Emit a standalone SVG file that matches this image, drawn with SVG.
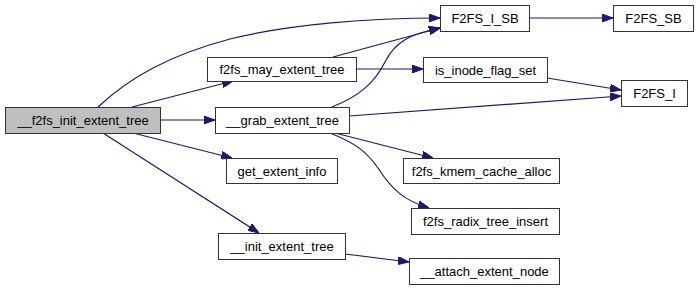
<svg xmlns="http://www.w3.org/2000/svg" width="699" height="291" viewBox="0 0 699 291">
  <style>
    .node rect { fill: #ffffff; stroke: #333333; stroke-width: 1; }
    .node.root rect { fill: #bfbfbf; }
    .node text { font-family: "Liberation Sans", Arial, sans-serif; font-size: 13px; fill: #000000; text-anchor: middle; }
    .edge { fill: none; stroke: #191970; stroke-width: 1.2; marker-end: url(#arrow); }
  </style>
  <defs>
    <marker id="arrow" markerUnits="userSpaceOnUse" markerWidth="11" markerHeight="8" refX="11" refY="4" orient="auto">
      <path d="M0,0 L11,4 L0,8 z" fill="#191970" stroke="#191970" stroke-width="1"/>
    </marker>
  </defs>

  <!-- call edges -->
  <g id="edges">
    <path class="edge" d="M98,107 C130,77 170,55 230,39 C290,24 370,18 440,18"/>
    <path class="edge" d="M132,107 L233,81"/>
    <path class="edge" d="M160,120 L215,120"/>
    <path class="edge" d="M133,133 L232,158"/>
    <path class="edge" d="M103,133 L259,233"/>
    <path class="edge" d="M333,57 L440,28"/>
    <path class="edge" d="M356,69 L423,69"/>
    <path class="edge" d="M332,107 C360,96 375,82 385,62 C395,42 410,34 440,28"/>
    <path class="edge" d="M349,116 L621,96"/>
    <path class="edge" d="M547,78 L621,90"/>
    <path class="edge" d="M335,133 L433,158"/>
    <path class="edge" d="M330,133 C355,143 366,151 378,168 C392,190 405,201 429,208"/>
    <path class="edge" d="M345,254 L409,262"/>
    <path class="edge" d="M529,18 L613,18"/>
  </g>

  <g id="node_f2fs_init_extent_tree" class="node root">
    <rect x="5.5" y="107.5" width="155" height="26"/>
    <text x="83" y="125">__f2fs_init_extent_tree</text>
  </g>
  <g id="node_F2FS_I_SB" class="node">
    <rect x="440.5" y="5.5" width="89" height="26"/>
    <text x="485" y="23">F2FS_I_SB</text>
  </g>
  <g id="node_F2FS_SB" class="node">
    <rect x="613.5" y="5.5" width="80" height="26"/>
    <text x="653.5" y="23">F2FS_SB</text>
  </g>
  <g id="node_f2fs_may_extent_tree" class="node">
    <rect x="207.5" y="57.5" width="149" height="24"/>
    <text x="282" y="74">f2fs_may_extent_tree</text>
  </g>
  <g id="node_is_inode_flag_set" class="node">
    <rect x="423.5" y="57.5" width="124" height="25"/>
    <text x="485.5" y="74.5">is_inode_flag_set</text>
  </g>
  <g id="node_F2FS_I" class="node">
    <rect x="621.5" y="80.5" width="66" height="26"/>
    <text x="654.5" y="98">F2FS_I</text>
  </g>
  <g id="node_grab_extent_tree" class="node">
    <rect x="215.5" y="107.5" width="134" height="26"/>
    <text x="282.5" y="125">__grab_extent_tree</text>
  </g>
  <g id="node_get_extent_info" class="node">
    <rect x="226.5" y="158.5" width="111" height="25"/>
    <text x="282" y="175.5">get_extent_info</text>
  </g>
  <g id="node_f2fs_kmem_cache_alloc" class="node">
    <rect x="403.5" y="158.5" width="156" height="25"/>
    <text x="481.5" y="175.5">f2fs_kmem_cache_alloc</text>
  </g>
  <g id="node_f2fs_radix_tree_insert" class="node">
    <rect x="411.5" y="208.5" width="148" height="26"/>
    <text x="485.5" y="226">f2fs_radix_tree_insert</text>
  </g>
  <g id="node_init_extent_tree" class="node">
    <rect x="218.5" y="233.5" width="127" height="26"/>
    <text x="282" y="251">__init_extent_tree</text>
  </g>
  <g id="node_attach_extent_node" class="node">
    <rect x="409.5" y="258.5" width="150" height="26"/>
    <text x="484.5" y="276">__attach_extent_node</text>
  </g>
</svg>
